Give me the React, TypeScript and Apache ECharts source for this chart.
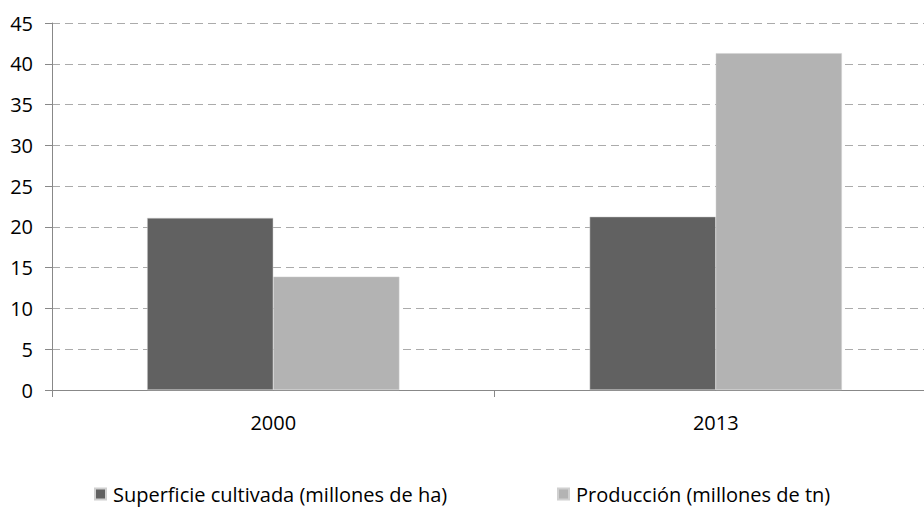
import React, { useEffect, useRef } from "react";
import * as echarts from "echarts";

const categories = ["2000", "2013"];
const superficie = [21.1, 21.25];
const produccion = [13.9, 41.3];
const seriesNames = ["Superficie cultivada (millones de ha)", "Producción (millones de tn)"];

export default function App() {
  const ref = useRef<HTMLDivElement>(null);
  useEffect(() => {
    const chart = echarts.init(ref.current!, null, { renderer: "svg" });
    const font = "Open Sans";
    const fs = 20;
    const legendBase = {
      top: 479,
      itemWidth: 11,
      itemHeight: 11,
      icon: "rect",
      textStyle: { fontFamily: font, fontSize: fs, color: "#000", padding: [0, 0, 0, 2] },
    };
    chart.setOption({
      animation: false,
      textStyle: { fontFamily: font },
      grid: { left: 52, right: 0, top: 23, bottom: 124, containLabel: false },
      legend: [
        { ...legendBase, left: 89, data: [seriesNames[0]] },
        { ...legendBase, left: 552, data: [seriesNames[1]] },
      ],
      xAxis: {
        type: "category",
        data: categories,
        axisLine: { lineStyle: { color: "#888", width: 1 } },
        axisTick: { show: true, length: 7, lineStyle: { color: "#888" } },
        axisLabel: { color: "#000", fontSize: fs, fontFamily: font, margin: 22 },
      },
      yAxis: {
        type: "value",
        min: 0,
        max: 45,
        interval: 5,
        axisLine: { show: true, lineStyle: { color: "#888", width: 1 } },
        axisTick: { show: true, length: 7, lineStyle: { color: "#888" } },
        axisLabel: { color: "#000", fontSize: fs, fontFamily: font, margin: 19 },
        splitLine: { lineStyle: { color: "#ababab", type: [8, 5], width: 1 } },
      },
      series: [
        {
          name: seriesNames[0],
          type: "bar",
          data: superficie,
          barGap: "0%",
          barCategoryGap: "43%",
          itemStyle: { color: "#616161", borderColor: "#d0d0d0", borderWidth: 0.5 },
        },
        {
          name: seriesNames[1],
          type: "bar",
          data: produccion,
          itemStyle: { color: "#b3b3b3", borderColor: "#d0d0d0", borderWidth: 0.5 },
        },
      ],
    });
    return () => chart.dispose();
  }, []);
  return (
    <div
      ref={ref}
      style={{ position: "fixed", left: 0, top: 0, width: 937, height: 514, background: "#fff" }}
    />
  );
}
